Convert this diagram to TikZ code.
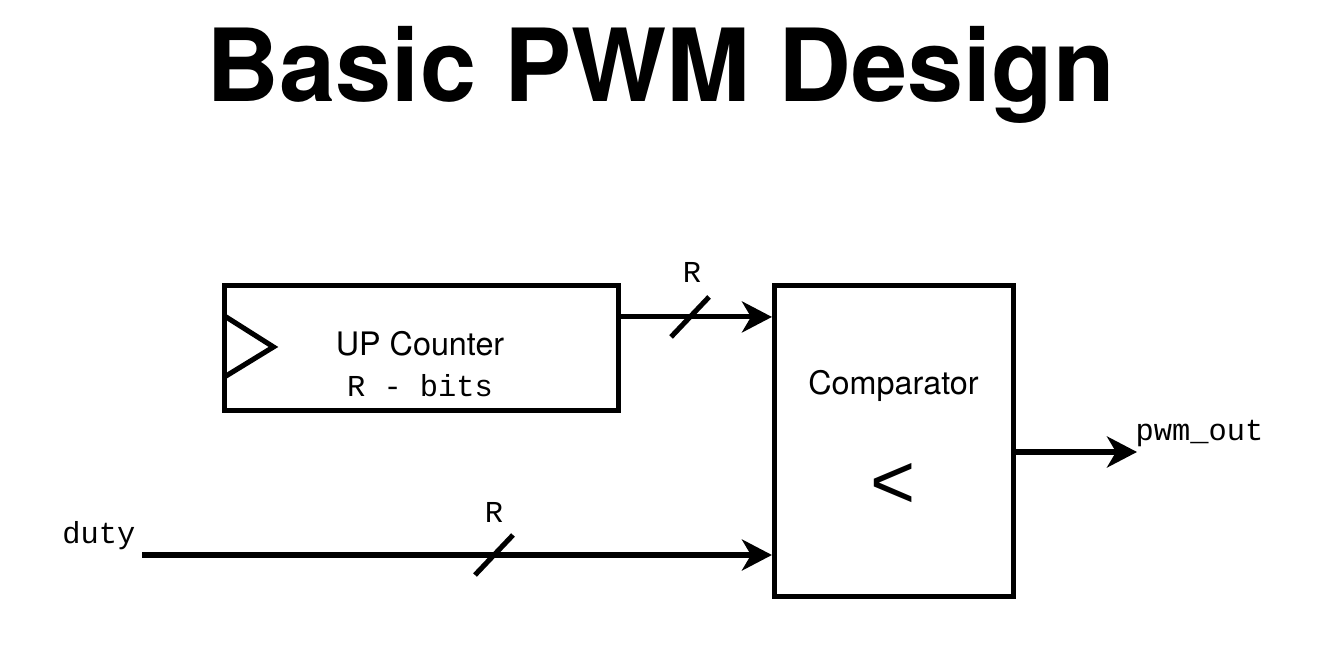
\documentclass[tikz,border=0pt]{standalone}
\usepackage{fontspec}
\setmainfont{TeX Gyre Heros}
\setmonofont{Liberation Mono}
\newfontfamily\arialfont{Liberation Sans}
\usetikzlibrary{arrows.meta,decorations.markings,positioning}

\begin{document}
\begin{tikzpicture}
[block/.style={rectangle, draw=black, line width=1.45pt, inner sep=0pt},
txt/.style={draw=none, inner sep=0pt, font=\fontsize{9.2}{11}\selectfont},
sig/.style={draw=none, inner sep=0pt, font=\ttfamily\fontsize{8.65}{10}\selectfont},
wire/.style={line width=1.45pt, -{Stealth[length=3mm, width=3.1mm, inset=0.9mm]}},
slash at/.style={postaction={decorate}, decoration={markings, mark=at position #1 with {\draw[-, line width=1.45pt] (-0.19,-0.2) -- (0.19,0.2);}}}]
\useasboundingbox (0,0) rectangle (13.25,6.55);

% title
\node[draw=none, inner sep=0pt, anchor=base, font=\bfseries\fontsize{28.7}{34}\selectfont] (title) at (6.61,5.53) {Basic PWM Design};

% counter
\node[block, minimum width=3.94cm, minimum height=1.25cm] (counter) at (4.215,3.07) {};
\node[txt, anchor=base] (upc) at (4.20,3.00) {UP Counter};
\node[sig, anchor=base] (rbits) at (4.20,2.58) {R - bits};
\draw[line width=1.45pt] ([xshift=0.025cm, yshift=-0.33cm]counter.north west) -- ++(0.49,-0.31) -- ++(-0.49,-0.30);

% comparator
\node[block, minimum width=2.39cm, minimum height=3.11cm] (comp) at (8.94,2.14) {};
\node[txt, anchor=base] (cmp) at (8.935,2.60) {Comparator};
\node[txt, font=\arialfont\fontsize{22}{24}\selectfont] (lt) at (8.935,1.69) {<};

% inputs and output
\node[sig, anchor=base east] (duty) at (1.36,1.12) {duty};
\node[sig, anchor=base] (rtop) at (6.92,3.73) {R};
\node[sig, anchor=base] (rbot) at (4.94,1.33) {R};
\node[sig, anchor=base west] (pwm) at (11.35,2.15) {pwm\_out};

\coordinate (up) at ([yshift=-0.34cm]counter.north east);
\coordinate (din) at (1.42,1.00);
\coordinate (pout) at (11.37,2.03);

\draw[wire, slash at=0.69cm] (up) -- (up -| comp.west);
\draw[wire, slash at=3.52cm] (din) -- (din -| comp.west);
\draw[wire] (comp.east |- pout) -- (pout);

\end{tikzpicture}
\end{document}
